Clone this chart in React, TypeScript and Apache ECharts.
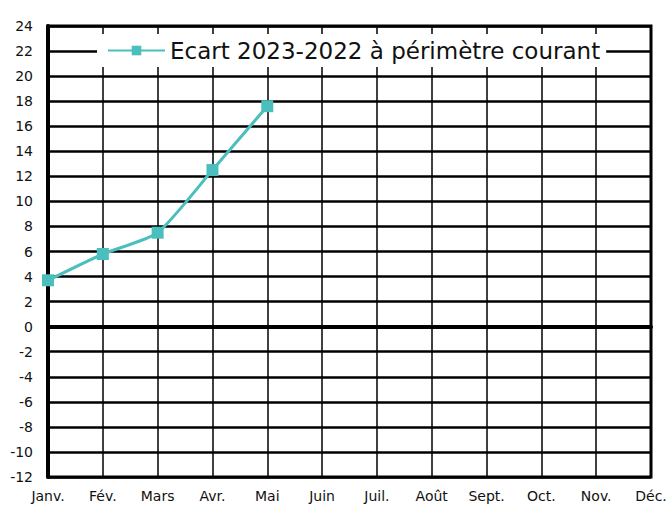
import React, { useEffect, useRef } from "react";
import * as echarts from "echarts";

const months = ["Janv.", "Fév.", "Mars", "Avr.", "Mai", "Juin", "Juil.", "Août", "Sept.", "Oct.", "Nov.", "Déc."];
const ecart = [3.7, 5.8, 7.5, 12.5, 17.6, null, null, null, null, null, null, null];
const seriesName = "Ecart 2023-2022 à périmètre courant";
const yMin = -12;
const yMax = 24;
const yStep = 2;

export default function App() {
  const ref = useRef<HTMLDivElement>(null);
  useEffect(() => {
    const chart = echarts.init(ref.current!, null, { renderer: "svg" });
    const font = "'DejaVu Sans', sans-serif";
    chart.setOption({
      animation: false,
      backgroundColor: "#ffffff",
      grid: {
        left: 48,
        right: 19,
        top: 26,
        bottom: 29,
        show: true,
        borderColor: "#000",
        borderWidth: 3,
      },
      legend: {
        top: 34,
        left: 97,
        data: [seriesName],
        backgroundColor: "#ffffff",
        padding: [5, 6, 5, 10],
        itemWidth: 57,
        itemHeight: 12,
        itemGap: 6,
        textStyle: { fontFamily: font, fontSize: 23, color: "#111" },
      },
      xAxis: {
        type: "category",
        data: months,
        boundaryGap: false,
        axisLine: { show: true, lineStyle: { color: "#000", width: 4 } },
        axisTick: { show: false },
        splitLine: { show: true, lineStyle: { color: "#000", width: 1.5 } },
        axisLabel: { fontFamily: font, fontSize: 14, color: "#111", margin: 12, interval: 0 },
      },
      yAxis: {
        type: "value",
        min: yMin,
        max: yMax,
        interval: yStep,
        axisLine: { show: true, lineStyle: { color: "#000", width: 4 } },
        axisTick: { show: false },
        splitLine: { show: true, lineStyle: { color: "#000", width: 2.5 } },
        axisLabel: { fontFamily: font, fontSize: 14, color: "#111", margin: 15 },
      },
      series: [
        {
          name: seriesName,
          type: "line",
          data: ecart,
          smooth: 0.2,
          symbol: "rect",
          symbolSize: 12,
          lineStyle: { color: "#4bbfbd", width: 3 },
          itemStyle: { color: "#4bbfbd" },
          z: 5,
        },
      ],
    });
    return () => chart.dispose();
  }, []);
  return <div ref={ref} style={{ width: 670, height: 506, position: "absolute", left: 0, top: 0 }} />;
}
